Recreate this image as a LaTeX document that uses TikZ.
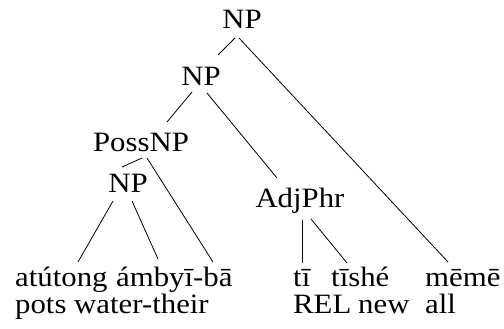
\documentclass[tikz,border=0pt]{standalone}
\usepackage{fontspec}
\setmainfont{Liberation Serif}[FakeStretch=1.1]
\usetikzlibrary{calc}
\begin{document}
\begin{tikzpicture}[x=1pt,y=-1pt,
  lbl/.style={font=\fontsize{28pt}{28pt}\selectfont, inner sep=0pt, anchor=base},
  wd/.style={lbl, anchor=base west},
  br/.style={line width=0.8pt, black}]
\useasboundingbox (0,0) rectangle (504,329);
% category labels
\node[lbl] (np1) at (242,29) {NP};
\node[lbl] (np2) at (201,85) {NP};
\node[lbl] (poss) at (141,152) {PossNP};
\node[lbl] (np3) at (128,193) {NP};
\node[lbl] (adj) at (300,207) {AdjPhr};
% words
\node[wd] (atutong) at (15,286) {atútong};
\node[wd] (ambyi) at (116,286) {ámbyī-bā};
\node[wd] (ti) at (293,286) {tī};
\node[wd] (tishe) at (331,286) {tīshé};
\node[wd] (meme) at (425,286) {mēmē};
% glosses
\node[wd] (g1) at (15,313) {pots water-their};
\node[wd] (g2) at (293,313) {REL};
\node[wd] (g3) at (358,313) {new};
\node[wd] (g4) at (425,313) {all};
% branches
\draw[br] ($(np1.base)+(-7,9)$) -- ($(np2.base)+(17,-30)$);
\draw[br] ($(np1.base)+(-3,9)$) -- ($(meme.base west)+(23,-24)$);
\draw[br] ($(np2.base)+(-9,7)$) -- ($(poss.base)+(26,-30)$);
\draw[br] ($(np2.base)+(6,8)$) -- ($(adj.base)+(-23,-29)$);
\draw[br] ($(poss.base)+(1,6)$) -- ($(np3.base)+(-6,-26)$);
\draw[br] ($(poss.base)+(6,6)$) -- ($(ambyi.base west)+(97,-24)$);
\draw[br] ($(np3.base)+(-15,8)$) -- ($(atutong.base west)+(63,-24)$);
\draw[br] ($(np3.base)+(4,8)$) -- ($(ambyi.base west)+(42,-27)$);
\draw[br] ($(adj.base)+(2,13)$) -- ($(ti.base west)+(9,-23)$);
\draw[br] ($(adj.base)+(11,12)$) -- ($(tishe.base west)+(16,-23)$);
\end{tikzpicture}
\end{document}
